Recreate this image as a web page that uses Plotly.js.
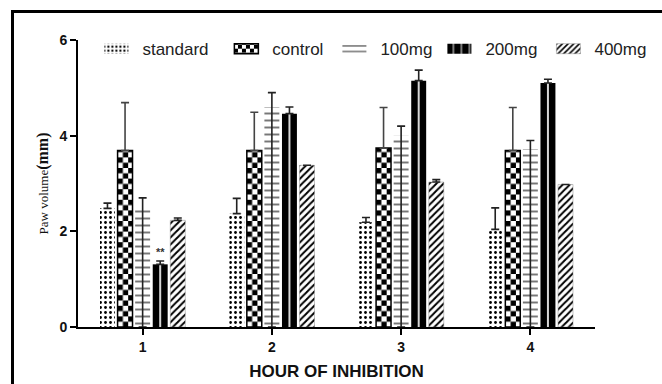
<!DOCTYPE html>
<html>
<head>
<meta charset="utf-8">
<script src="https://cdn.plot.ly/plotly-3.0.1.min.js"></script>
<style>
  html, body { margin: 0; padding: 0; background: #fff; }
  #wrap { position: relative; width: 662px; height: 384px; overflow: hidden; }
  #chart { width: 662px; height: 384px; }
  #frame { position: absolute; left: 11px; top: 10px; width: 700px; height: 400px;
           border-left: 3px solid #000; border-top: 3px solid #000; pointer-events: none; }
</style>
</head>
<body>
<div id="wrap">
  <div id="chart"></div>
  <div id="frame"></div>
</div>
<script>
// ---- data ----
const hours = [1, 2, 3, 4];
const hourLabels = ['1', '2', '3', '4'];
const seriesNames = ['standard', 'control', '100mg', '200mg', '400mg'];

const standard    = [2.48, 2.37, 2.19, 2.04];
const standardErr = [0.11, 0.32, 0.10, 0.45];
const control     = [3.69, 3.69, 3.74, 3.69];
const controlErr  = [1.00, 0.80, 0.85, 0.90];
const mg100       = [2.50, 4.60, 4.00, 3.72];
const mg100Err    = [0.20, 0.30, 0.20, 0.18];
const mg200       = [1.31, 4.46, 5.15, 5.10];
const mg200Err    = [0.07, 0.14, 0.22, 0.08];
const mg400       = [2.23, 3.38, 3.03, 2.98];
const mg400Err    = [0.05, 0.00, 0.05, 0.00];

const yTicks = [0, 2, 4, 6];
const yTickLabels = ['0', '2', '4', '6'];
const sigMark = '**';

// ---- styling ----
const errStyle = (arr, minus, color) => ({
  type: 'data', symmetric: false, array: arr,
  arrayminus: minus ? minus : arr.map(() => 0),
  color: color || '#222', thickness: 1.6, width: 4, visible: true
});
const FONT = 'Liberation Sans, Arial, sans-serif';
const legendNames = ['legend', 'legend2', 'legend3', 'legend4', 'legend5'];
const legendX = [0.1547, 0.351, 0.5142, 0.6728, 0.8375];

const traces = [
  {
    type: 'bar', name: seriesNames[0], x: hours, y: standard, legend: legendNames[0],
    marker: { color: '#fff', line: { width: 0 },
      pattern: { shape: '.', fgcolor: '#000', bgcolor: '#fff', size: 5, solidity: 0.25 } },
    error_y: errStyle(standardErr)
  },
  {
    type: 'bar', name: seriesNames[1], x: hours, y: control, legend: legendNames[1],
    marker: { color: '#fff', line: { width: 1.5, color: '#000' },
      pattern: { shape: hours.map(() => '.'), fgcolor: '#000', bgcolor: '#fff', size: 10, solidity: 0.5 } },
    error_y: errStyle(controlErr, null, '#444')
  },
  {
    type: 'bar', name: seriesNames[2], x: hours, y: mg100, legend: legendNames[2],
    marker: { color: '#fff', line: { width: 0 },
      pattern: { shape: '-', fgcolor: '#777', bgcolor: '#fff', size: 7, solidity: 0.28 } },
    error_y: errStyle(mg100Err, mg100)
  },
  {
    type: 'bar', name: seriesNames[3], x: hours, y: mg200, legend: legendNames[3],
    marker: { color: '#000', line: { width: 0 },
      pattern: { shape: hours.map(() => '|'), fgcolor: '#fff', bgcolor: '#000', size: 14, solidity: 0.12 } },
    error_y: errStyle(mg200Err)
  },
  {
    type: 'bar', name: seriesNames[4], x: hours, y: mg400, legend: legendNames[4],
    marker: { color: '#fff', line: { width: 0.5, color: '#888' },
      pattern: { shape: '/', fgcolor: '#000', bgcolor: '#fff', size: 5, solidity: 0.4 } },
    error_y: errStyle(mg400Err)
  }
];

const layout = {
  width: 662, height: 384,
  margin: { l: 78, r: 67, t: 40, b: 57, pad: 0, autoexpand: false },
  paper_bgcolor: '#fff', plot_bgcolor: '#fff',
  barmode: 'group', bargap: 0.32, bargroupgap: 0.15,
  font: { family: FONT, color: '#000' },
  showlegend: true,
  xaxis: {
    range: [0.5, 4.5], tickvals: hours, ticktext: hourLabels,
    showline: true, linecolor: '#000', linewidth: 2,
    ticks: 'outside', ticklen: 6, tickwidth: 2, tickcolor: '#000',
    tickfont: { family: FONT, size: 14, weight: 'bold', color: '#111' },
    showgrid: false, zeroline: false, fixedrange: true,
    title: { text: 'HOUR OF INHIBITION', font: { family: FONT, size: 17, weight: 'bold', color: '#111' }, standoff: 11 }
  },
  yaxis: {
    range: [0, 6], tickvals: yTicks, ticktext: yTickLabels,
    showline: true, linecolor: '#000', linewidth: 2,
    ticks: 'outside', ticklen: 6, tickwidth: 2, tickcolor: '#000',
    tickfont: { family: FONT, size: 14, weight: 'bold', color: '#111' },
    showgrid: false, zeroline: false, fixedrange: true,
    title: {
      text: '<span style="font-size:13px">Paw volume</span><b>(mm)</b>',
      font: { family: 'Liberation Serif, Times New Roman, serif', size: 16, color: '#111' },
      standoff: 7
    }
  },
  annotations: [{
    x: hours[0], y: mg200[0] + mg200Err[0], xref: 'x', yref: 'y',
    text: sigMark, showarrow: false, yanchor: 'bottom', xshift: 18, yshift: 1,
    font: { family: FONT, size: 11, weight: 'bold', color: '#333' }
  }]
};
legendNames.forEach((ln, i) => {
  layout[ln] = {
    orientation: 'h', xref: 'container', yref: 'container',
    x: legendX[i], xanchor: 'left', y: 0.872, yanchor: 'middle',
    font: { family: FONT, size: 17, color: '#222' },
    bgcolor: 'rgba(0,0,0,0)', borderwidth: 0, itemwidth: 30
  };
});

const NS = 'http://www.w3.org/2000/svg';
function patId(el) {
  const f = (el.style && el.style.fill) || el.getAttribute('fill') || '';
  const m = f.match(/#([^"')]+)/);
  return m ? m[1] : null;
}
function makeChecker(pat, c, x0, y0) {
  while (pat.firstChild) pat.removeChild(pat.firstChild);
  pat.setAttribute('width', 2 * c); pat.setAttribute('height', 2 * c);
  if (x0 != null) pat.setAttribute('x', x0);
  if (y0 != null) pat.setAttribute('y', y0);
  const bg = document.createElementNS(NS, 'rect');
  bg.setAttribute('width', 2 * c); bg.setAttribute('height', 2 * c); bg.setAttribute('fill', '#fff');
  pat.appendChild(bg);
  [[0, 0], [c, c]].forEach(([a, b]) => {
    const r = document.createElementNS(NS, 'rect');
    r.setAttribute('x', a); r.setAttribute('y', b);
    r.setAttribute('width', c); r.setAttribute('height', c); r.setAttribute('fill', '#000');
    pat.appendChild(r);
  });
}

Plotly.newPlot('chart', traces, layout, { staticPlot: true, displayModeBar: false }).then(gd => {
  try {
    const barTraces = gd.querySelectorAll('.barlayer .trace');
    if (barTraces[1]) {
      barTraces[1].querySelectorAll('.point path').forEach(p => {
        const id = patId(p); if (!id) return;
        const pat = document.getElementById(id); if (!pat) return;
        const bb = p.getBBox();
        makeChecker(pat, 5.3, bb.x, bb.y + bb.height);
      });
    }
    if (barTraces[3]) {
      barTraces[3].querySelectorAll('.point path').forEach(p => {
        const id = patId(p); if (!id) return;
        const pat = document.getElementById(id); if (!pat) return;
        const bb = p.getBBox();
        const w = parseFloat(pat.getAttribute('width')) || 14;
        pat.setAttribute('x', bb.x + bb.width / 2 - w / 2);
      });
    }
    legendNames.forEach((ln, i) => {
      const leg = gd.querySelector('.' + ln);
      if (!leg) return;
      leg.querySelectorAll('.legendpoints path').forEach(p => {
        p.setAttribute('d', 'M6,5H-18V-5H6Z');
        if (i === 1) {
          const id = patId(p); if (!id) return;
          const pat = document.getElementById(id); if (pat) makeChecker(pat, 5, -18, -5);
        }
      });
    });
  } catch (e) { console.error(e); }
});
</script>
</body>
</html>
